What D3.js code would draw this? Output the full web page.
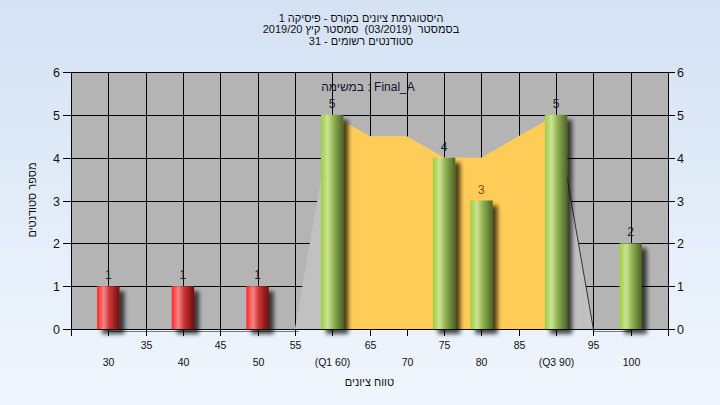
<!DOCTYPE html>
<html><head><meta charset="utf-8">
<script src="https://cdn.jsdelivr.net/npm/d3@7"></script>
<style>body{margin:0;background:#fff;} svg{display:block;font-family:"Liberation Sans",Arial,sans-serif;} .pre{white-space:pre;}</style>
</head><body><svg id="c" width="720" height="405"></svg>
<script>
// ---- data ----
const titleLines = ["היסטוגרמת ציונים בקורס - פיסיקה 1", "בסמסטר  (03/2019)  סמסטר קיץ 2019/20", "סטודנטים רשומים - 31"];
const yAxisTitle = "מספר סטודנטים";
const xAxisTitle = "טווח ציונים";
const taskLabel = "במשימה : Final_A";
const barScores = [30, 40, 50, 60, 75, 80, 90, 100];
const barCounts = [1, 1, 1, 5, 4, 3, 5, 2];
const barGroups = ["fail", "fail", "fail", "pass", "pass", "pass", "pass", "pass"];
const curveScores = [55, 60, 65, 70, 75, 80, 85, 90, 95];
const curveCounts = [0, 5, 4.5, 4.5, 4, 4, 4.5, 5, 0];
const quartiles = [60, 90];
const xTickValues = [30, 35, 40, 45, 50, 55, 60, 65, 70, 75, 80, 85, 90, 95, 100];
const xTickLabels = ["30", "35", "40", "45", "50", "55", "(Q1 60)", "65", "70", "75", "80", "85", "(Q3 90)", "95", "100"];
const yTickValues = [0, 1, 2, 3, 4, 5, 6];

// ---- layout ----
const W = 720, H = 405;
const L = 71, R = 668, T = 72, B = 329;
const svg = d3.select("#c");
const x = d3.scaleLinear().domain([25, 105]).range([L, R]);
const y = d3.scaleLinear().domain([0, 6]).range([B, T]);
const crisp = v => Math.round(v) + 0.5;

const defs = svg.append("defs");
const bg = defs.append("linearGradient").attr("id", "bg").attr("x1", 0).attr("y1", 0).attr("x2", 0).attr("y2", 1);
bg.append("stop").attr("offset", "0%").attr("stop-color", "#d4e2f4");
bg.append("stop").attr("offset", "100%").attr("stop-color", "#f0f6fd");
function cyl(id, stops) {
  const g = defs.append("linearGradient").attr("id", id).attr("x1", 0).attr("y1", 0).attr("x2", 1).attr("y2", 0);
  stops.forEach(s => g.append("stop").attr("offset", s[0]).attr("stop-color", s[1]));
}
cyl("gfail", [["0%", "#ff2626"], ["30%", "#f58585"], ["55%", "#cc3535"], ["100%", "#6e0e0e"]]);
cyl("gpass", [["0%", "#9fcc45"], ["30%", "#cbe392"], ["55%", "#93b455"], ["100%", "#4a6424"]]);
const f = defs.append("filter").attr("id", "sh").attr("x", "-50%").attr("y", "-20%").attr("width", "220%").attr("height", "150%");
f.append("feGaussianBlur").attr("in", "SourceAlpha").attr("stdDeviation", 2).attr("result", "b");
f.append("feOffset").attr("in", "b").attr("dx", 5).attr("dy", 5).attr("result", "o");
f.append("feComponentTransfer").attr("in", "o").attr("result", "s").append("feFuncA").attr("type", "linear").attr("slope", 0.7);
const fm = f.append("feMerge");
fm.append("feMergeNode").attr("in", "s");
fm.append("feMergeNode").attr("in", "SourceGraphic");

svg.append("rect").attr("width", W).attr("height", H).attr("fill", "url(#bg)");
svg.append("rect").attr("x", L).attr("y", T).attr("width", R - L).attr("height", B - T).attr("fill", "#b4b4b4");

// grid
const grid = svg.append("g").attr("stroke", "#000").attr("stroke-width", 1).attr("shape-rendering", "crispEdges");
grid.selectAll(".v").data(xTickValues).join("line")
  .attr("x1", d => crisp(x(d))).attr("x2", d => crisp(x(d))).attr("y1", T).attr("y2", B);
grid.selectAll(".h").data(yTickValues).join("line")
  .attr("x1", L).attr("x2", R).attr("y1", d => crisp(y(d))).attr("y2", d => crisp(y(d)));

// distribution areas
const pts = curveScores.map((s, i) => [s, curveCounts[i]]);
const area = d3.area().x(d => x(d[0])).y0(y(0)).y1(d => y(d[1]));
svg.append("path").datum(pts).attr("d", area).attr("fill", "#c1c1c1");
const inner = pts.filter(d => d[0] >= quartiles[0] && d[0] <= quartiles[1]);
svg.append("path").datum(inner).attr("d", area).attr("fill", "#ffcc57");
const tail = pts.filter(d => d[0] >= quartiles[1]);
svg.append("path").datum(tail).attr("d", d3.line().x(d => x(d[0])).y(d => y(d[1])))
  .attr("fill", "none").attr("stroke", "#333").attr("stroke-width", 1);
// faint baseline traces under the axis
const base = svg.append("g").attr("stroke", "#7a7a7a").attr("stroke-width", 1).attr("shape-rendering", "crispEdges");
base.append("line").attr("x1", x(barScores[0])).attr("x2", x(curveScores[0]) + 4).attr("y1", B + 2.5).attr("y2", B + 2.5);
base.append("line").attr("x1", x(curveScores[curveScores.length - 1])).attr("x2", x(barScores[barScores.length - 1])).attr("y1", B + 2.5).attr("y2", B + 2.5);

// bars
const bars = barScores.map((s, i) => ({ s, c: barCounts[i], g: barGroups[i] }));
svg.append("g").selectAll("rect").data(bars).join("rect")
  .attr("x", d => x(d.s - 1.5)).attr("width", d => x(d.s + 1.5) - x(d.s - 1.5))
  .attr("y", d => y(d.c)).attr("height", d => y(0) - y(d.c))
  .attr("fill", d => "url(#g" + d.g + ")").attr("filter", "url(#sh)");
svg.append("g").selectAll("text").data(bars).join("text")
  .attr("x", d => x(d.s)).attr("y", d => y(d.c) - 7).attr("text-anchor", "middle")
  .attr("font-size", 12).attr("fill", d => d.c === 3 ? "#8a4a12" : "#1c1c30").text(d => d.c);

// axes
function styleAxis(g) {
  g.selectAll("path,line").attr("stroke", "#000").attr("shape-rendering", "crispEdges");
  g.selectAll("text").attr("fill", "#111").attr("font-family", '"Liberation Sans",Arial,sans-serif');
}
const ax = svg.append("g").attr("transform", `translate(0,${B})`)
  .call(d3.axisBottom(x).tickValues(xTickValues).tickSize(7).tickSizeOuter(0).tickFormat((d, i) => xTickLabels[i]));
ax.select(".domain").attr("d", `M${L},0.5H${R}`);
ax.selectAll(".tick").attr("transform", d => `translate(${crisp(x(d))},0)`);
ax.selectAll("text").attr("font-size", 10.5).attr("y", (d, i) => i % 2 ? 12.5 : 29.5);
styleAxis(ax);
const ay = svg.append("g").attr("transform", `translate(${L},0)`)
  .call(d3.axisLeft(y).tickValues(yTickValues).tickSize(8).tickSizeOuter(0).tickPadding(3).tickFormat(d3.format("d")));
ay.selectAll(".tick").attr("transform", d => `translate(0,${crisp(y(d))})`);
ay.select(".domain").attr("d", `M0.5,${T}V${B + 7}`);
ay.selectAll("text").attr("font-size", 12.5);
styleAxis(ay);
const ay2 = svg.append("g").attr("transform", `translate(${R},0)`)
  .call(d3.axisRight(y).tickValues(yTickValues).tickSize(7).tickSizeOuter(0).tickPadding(2).tickFormat(d3.format("d")));
ay2.selectAll(".tick").attr("transform", d => `translate(0,${crisp(y(d))})`);
ay2.select(".domain").attr("d", `M0.5,${T}V${B + 7}`);
ay2.selectAll("text").attr("font-size", 12.5);
styleAxis(ay2);

// titles
svg.append("g").selectAll("text").data(titleLines).join("text").attr("class", "pre")
  .attr("x", 361).attr("y", (d, i) => 22 + i * 11.4).attr("text-anchor", "middle")
  .attr("font-size", 11).attr("fill", "#111").text(d => d);
svg.append("text").attr("transform", "translate(36,200) rotate(-90)").attr("text-anchor", "middle")
  .attr("font-size", 11).attr("fill", "#111").text(yAxisTitle);
svg.append("text").attr("x", (L + R) / 2).attr("y", 386).attr("text-anchor", "middle")
  .attr("font-size", 11).attr("fill", "#111").text(xAxisTitle);
svg.append("text").attr("x", 368).attr("y", 91).attr("text-anchor", "middle")
  .attr("font-size", 12).attr("fill", "#1a1030").text(taskLabel);
</script></body></html>
